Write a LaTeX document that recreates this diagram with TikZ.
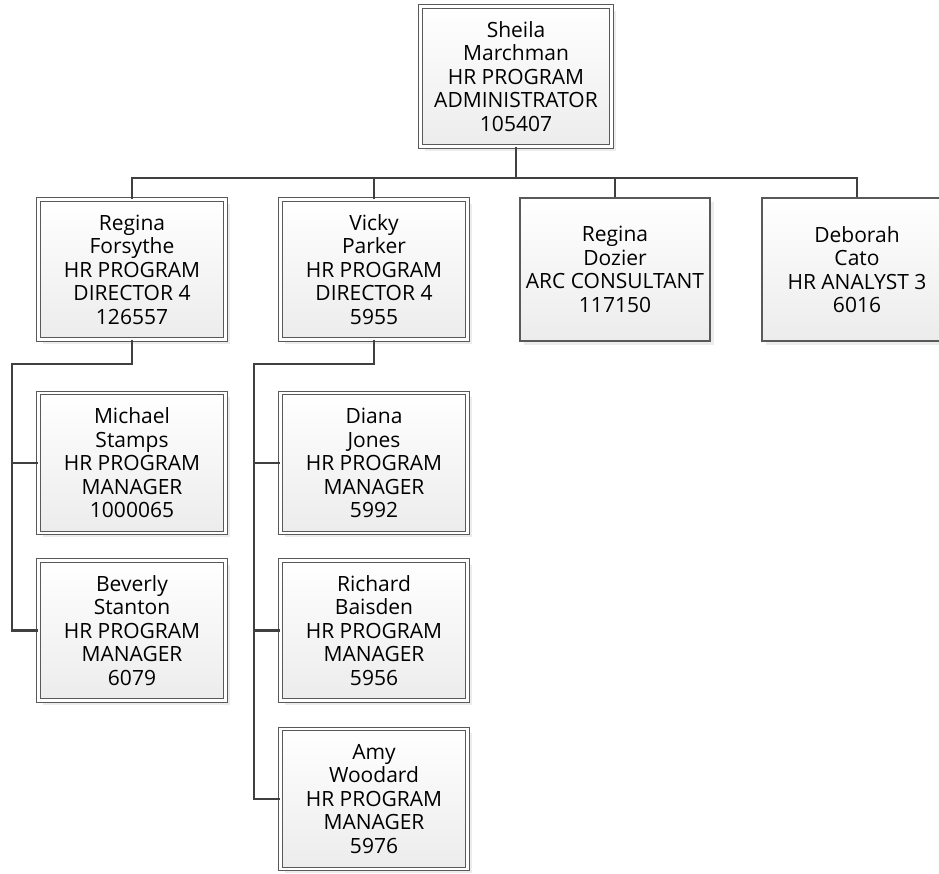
\documentclass[tikz,border=0pt]{standalone}
\usepackage{fontspec}
\setmainfont{Open Sans}
\usepackage{tikz}
\usetikzlibrary{positioning,shadows}

\begin{document}
\begin{tikzpicture}[x=1pt,y=-1pt,
      person/.style={draw=gray!70!black,line width=0.8pt,double=white,double distance=2.6pt,
        top color=white,bottom color=gray!15,align=center,inner sep=0pt,
        minimum width=187,minimum height=140,
        font=\fontsize{21}{23.5}\selectfont,
        drop shadow={opacity=0.15,shadow xshift=4pt,shadow yshift=-4pt}},
      single/.style={draw=gray!70!black,line width=1.1pt,
        top color=white,bottom color=gray!15,align=center,inner sep=0pt,
        minimum width=190,minimum height=143,
        font=\fontsize{21}{23.5}\selectfont,
        drop shadow={opacity=0.15,shadow xshift=4pt,shadow yshift=-4pt}},
      conn/.style={draw=black!75,line width=2.9pt}]
    \clip (0,0) rectangle (939,873);
    \fill[white] (0,0) rectangle (939,873);
    % head
    \node[person,minimum width=191] (sm) at (516,76.5) {Sheila\\Marchman\\HR PROGRAM\\ADMINISTRATOR\\105407};
    % second row
    \node[person] (rf) at (132,269.5) {Regina\\Forsythe\\HR PROGRAM\\DIRECTOR 4\\126557};
    \node[person] (vp) at (374,269.5) {Vicky\\Parker\\HR PROGRAM\\DIRECTOR 4\\5955};
    \node[single] (rd) at (615,269.5) {Regina\\Dozier\\ARC CONSULTANT\\117150};
    \node[single] (dc) at (857,269.5) {Deborah\\Cato\\HR ANALYST 3\\6016};
    % under Forsythe
    \node[person] (ms) at (132,463) {Michael\\Stamps\\HR PROGRAM\\MANAGER\\1000065};
    \node[person] (bs) at (132,630.5) {Beverly\\Stanton\\HR PROGRAM\\MANAGER\\6079};
    % under Parker
    \node[person] (dj) at (374,463) {Diana\\Jones\\HR PROGRAM\\MANAGER\\5992};
    \node[person] (rb) at (374,630.5) {Richard\\Baisden\\HR PROGRAM\\MANAGER\\5956};
    \node[person] (aw) at (374,799) {Amy\\Woodard\\HR PROGRAM\\MANAGER\\5976};
    % connectors
    \coordinate (bus) at (0,178);
    \coordinate (lbus) at (12,364);
    \coordinate (rbus) at (254,364);
    \foreach \n in {rf,vp,rd,dc}
      \draw[conn] (sm.south) -- (sm.south |- bus) -| (\n.north);
    \draw[conn] (rf.south) |- (lbus) |- (bs.west);
    \draw[conn] (lbus) |- (ms.west);
    \draw[conn] (vp.south) |- (rbus) |- (aw.west);
    \foreach \n in {dj,rb}
      \draw[conn] (rbus) |- (\n.west);
  \end{tikzpicture}
\end{document}
